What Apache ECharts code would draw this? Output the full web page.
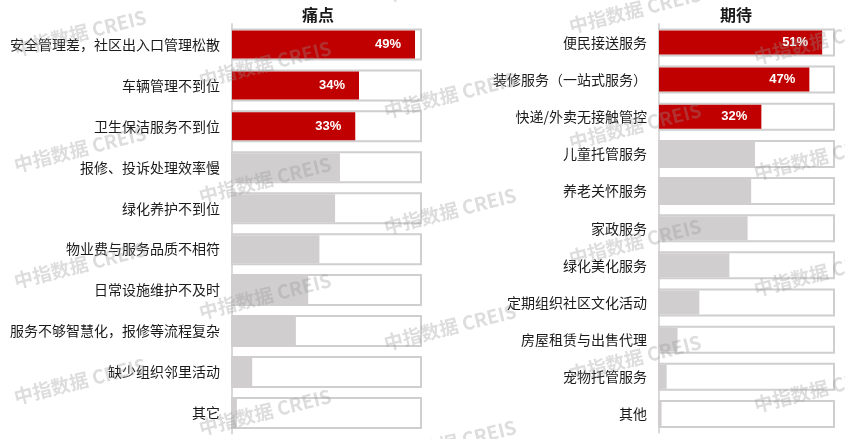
<!DOCTYPE html>
<html>
<head>
<meta charset="utf-8">
<script src="https://cdn.jsdelivr.net/npm/echarts@6/dist/echarts.min.js"></script>
<style>
html,body{margin:0;padding:0;background:#fff;}
#chart{width:845px;height:439px;}
</style>
</head>
<body>
<div id="chart"></div>
<script>
const painTitle = '痛点';
const painCategories = ['安全管理差，社区出入口管理松散','车辆管理不到位','卫生保洁服务不到位','报修、投诉处理效率慢','绿化养护不到位','物业费与服务品质不相符','日常设施维护不及时','服务不够智慧化，报修等流程复杂','缺少组织邻里活动','其它'];
const painValues = [49, 34, 33, 28.9, 27.6, 23.4, 20.4, 17.1, 5.4, 1.3];

const hopeTitle = '期待';
const hopeCategories = ['便民接送服务','装修服务（一站式服务）','快递/外卖无接触管控','儿童托管服务','养老关怀服务','家政服务','绿化美化服务','定期组织社区文化活动','房屋租赁与出售代理','宠物托管服务','其他'];
const hopeValues = [51, 47, 32, 30.0, 28.8, 27.7, 22.0, 12.6, 5.8, 2.4, 0.8];

const highlightCount = 3;
const watermarkText = '中指数据 CREIS';

const RED = '#C00000', GREY = '#D0CECE', FRAME = '#D0CECE', AXIS = '#D9D9D9';
const FONT = '"Microsoft YaHei","Noto Sans CJK SC",sans-serif';

function dataItems(values) {
  return values.map((v, i) => ({
    value: v,
    itemStyle: { color: i < highlightCount ? RED : GREY },
    label: { show: i < highlightCount }
  }));
}

const chart = echarts.init(document.getElementById('chart'), null, { renderer: 'canvas' });

const grids = [
  { left: 232, top: 24, width: 189, height: 409.4 },
  { left: 659, top: 23.9, width: 175, height: 408.6 }
];
const maxes = [50.6, 54.7];
const cats = [painCategories, hopeCategories];
const vals = [painValues, hopeValues];
const frameW = [30, 26];
const barW = [28, 24];

const xAxis = [], yAxis = [], series = [];
for (let g = 0; g < 2; g++) {
  xAxis.push({ gridIndex: g, type: 'value', min: 0, max: maxes[g], show: false });
  yAxis.push({
    gridIndex: g, type: 'category', data: cats[g], inverse: true,
    axisLine: { show: true, lineStyle: { color: AXIS, width: 2 } },
    axisTick: { show: false },
    splitLine: { show: false },
    axisLabel: { color: '#1a1a1a', fontSize: 14, fontFamily: FONT, margin: 12 }
  });
  yAxis.push({
    gridIndex: g, type: 'category', data: cats[g], inverse: true, show: false
  });
  series.push({
    type: 'bar', xAxisIndex: g, yAxisIndex: g * 2 + 1,
    data: vals[g], barWidth: frameW[g], z: 1,
    itemStyle: { color: 'rgba(0,0,0,0)' },
    showBackground: true,
    backgroundStyle: { color: '#fff', borderColor: FRAME, borderWidth: 2, opacity: 1 },
    silent: true
  });
  series.push({
    type: 'bar', xAxisIndex: g, yAxisIndex: g * 2,
    data: dataItems(vals[g]), barWidth: barW[g], z: 3,
    label: {
      position: 'insideRight', distance: 14, color: '#fff',
      fontWeight: 'bold', fontSize: 13, fontFamily: 'Arial, "Liberation Sans", sans-serif',
      formatter: p => p.value + '%'
    }
  });
}

const graphics = [
  { type: 'text', left: 318 - 16, top: 7, z: 50,
    style: { text: painTitle, font: 'bold 16px ' + FONT, fill: '#1a1a1a' } },
  { type: 'text', left: 736 - 16, top: 7, z: 50,
    style: { text: hopeTitle, font: 'bold 16px ' + FONT, fill: '#1a1a1a' } }
];
for (let i = -1; i <= 5; i++) {
  for (let j = -2; j <= 4; j++) {
    const cx = 80 + 185 * i;
    const cy = 33 + 31 * i + 116 * j;
    if (cx < -120 || cx > 960 || cy < -40 || cy > 480) continue;
    graphics.push({
      type: 'text', x: cx, y: cy, rotation: 14 * Math.PI / 180, z: 100, silent: true,
      style: {
        text: watermarkText, font: 'bold 19px ' + FONT,
        fill: 'rgba(150,150,150,0.32)', textAlign: 'center', textVerticalAlign: 'middle'
      }
    });
  }
}

chart.setOption({
  animation: false,
  backgroundColor: '#fff',
  grid: grids,
  xAxis: xAxis,
  yAxis: yAxis,
  series: series,
  graphic: graphics
});
</script>
</body>
</html>
